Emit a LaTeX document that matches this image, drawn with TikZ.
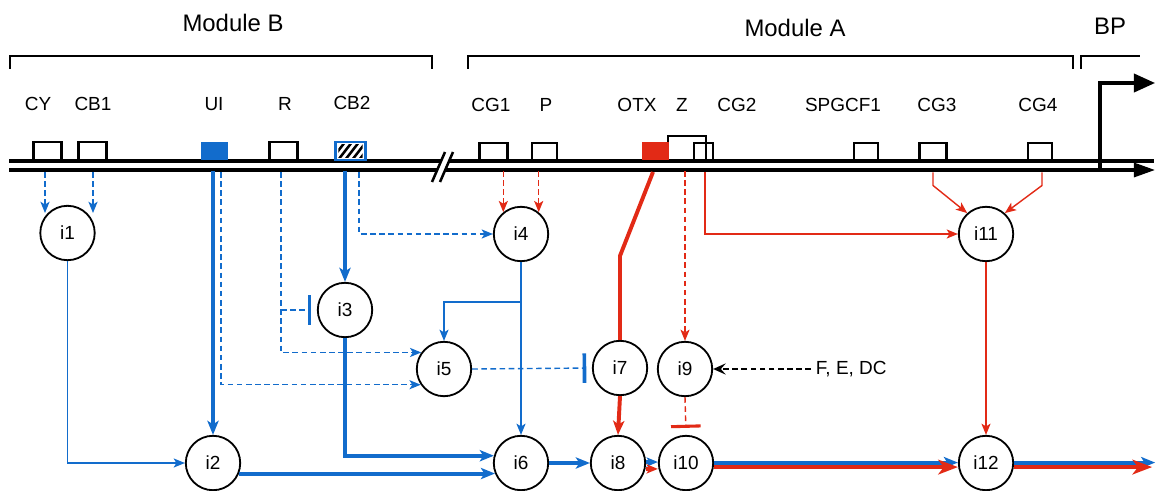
\documentclass[tikz,border=0pt]{standalone}
\usepackage{fontspec}
\setmainfont{Liberation Sans}
\usetikzlibrary{positioning}
\usetikzlibrary{arrows.meta}
\usetikzlibrary{calc}
\usepackage{xcolor}

\definecolor{cblue}{RGB}{18,108,204}
\definecolor{cred}{RGB}{226,42,22}

\tikzset{
  inode/.style={circle, draw=black, line width=1.3pt, fill=white, minimum size=1.36cm, inner sep=0pt, font=\fontsize{13.5}{15}\selectfont},
  gbox/.style={draw=black, line width=1.7pt, minimum width=0.7cm, minimum height=0.44cm, inner sep=0pt},
  glabel/.style={font=\fontsize{13.5}{15}\selectfont},
  mlabel/.style={font=\fontsize{17}{19}\selectfont},
  thinb/.style={cblue, line width=1pt},
  dashb/.style={cblue, line width=1pt, dash pattern=on 4pt off 2.5pt},
  thickb/.style={cblue, line width=2.8pt},
  thinr/.style={cred, line width=1pt},
  dashr/.style={cred, line width=1pt, dash pattern=on 4pt off 2.5pt},
  thickr/.style={cred, line width=2.8pt},
  tip/.style={-{Stealth[length=8pt,width=6.5pt,inset=2pt]}},
  bigtip/.style={-{Stealth[length=10pt,width=8pt,inset=2.5pt]}},
  redtip/.style={-{Stealth[length=14pt,width=10.5pt,inset=4pt]}},
  stopb/.style={-{Bar[width=21pt,line width=2.6pt]}, shorten >=4pt},
}

\begin{document}
\begin{tikzpicture}[x=0.025cm, y=-0.025cm]
\useasboundingbox (0,0) rectangle (1156,491);

% modules
\node[mlabel] (modB) at (233,23) {Module B};
\node[mlabel] (modA) at (795,28) {Module A};
\node[mlabel] (modBP) at (1110,26) {BP};
\draw[line width=1.1pt] (10,69) -- (10,56) -- (432,56) -- (432,69);
\draw[line width=1.1pt] (468,69) -- (468,56) -- (1073,56) -- (1073,69);
\draw[line width=1.1pt] (1081,69) -- (1081,56) -- (1140,56);

% strand
\draw[line width=2.2pt] (9,161) -- (1154,161);
\draw[line width=2.2pt, -{Triangle[length=15pt,width=10pt]}] (9,170) -- (1155,170);
\coordinate (strand) at (0,171);
\fill[white] (434.6,176) -- (443.3,156) -- (451.3,156) -- (442.6,176) -- cycle;
\draw[line width=1.8pt] (432,182) -- (445,152);
\draw[line width=1.8pt] (440,182) -- (453,152);

% promoter
\draw[line width=2.2pt, -{Triangle[length=15pt,width=13pt]}] (1100,170) -- (1100,83) -- (1155,83);

% site names
\node[glabel] (lcy) at (38,104) {CY};
\node[glabel] (lcb1) at (93,104) {CB1};
\node[glabel] (lui) at (214,104) {UI};
\node[glabel] (lr) at (285,104) {R};
\node[glabel] (lcb2) at (352,103) {CB2};
\node[glabel] (lcg1) at (491,105) {CG1};
\node[glabel] (lp) at (546,105) {P};
\node[glabel] (lotx) at (637,105) {OTX};
\node[glabel] (lz) at (682,105) {Z};
\node[glabel] (lcg2) at (737,105) {CG2};
\node[glabel] (lspg) at (843,105) {SPGCF1};
\node[glabel] (lcg3) at (937,105) {CG3};
\node[glabel] (lcg4) at (1038,105) {CG4};

% boxes
\node[gbox] (cy) at (47.5,151) {};
\node[gbox] (cb1) at (92.5,151) {};
\node[gbox, draw=none, fill=cblue, minimum width=0.675cm] (ui) at (214.5,151) {};
\node[gbox] (r) at (283.5,151) {};
\node[gbox, draw=cblue, fill=white, minimum width=0.75cm] (cb2) at (350.5,151) {};
\begin{scope}
\clip ($(cb2.south west)+(4,-3)$) rectangle ($(cb2.north east)+(-4,3)$);
\foreach \s in {0,7,14,21,28}
  \draw[line width=1.8pt] ($(cb2.south west)+(\s-4,0)$) -- ++(14,-18);
\end{scope}

\node[gbox] (cg1) at (493.5,151.5) {};
\node[gbox, minimum width=0.625cm] (p) at (544.5,151.5) {};
\node[gbox, minimum width=0.95cm, minimum height=0.6cm] (z) at (687,148) {};
\node[gbox, draw=none, fill=cred, minimum width=0.675cm] (otx) at (655.5,151) {};
\node[gbox, minimum width=0.475cm, minimum height=0.425cm] (cg2) at (703.5,151.5) {};
\node[gbox, minimum width=0.6cm] (spg) at (866,151.5) {};
\node[gbox, minimum width=0.675cm] (cg3) at (933,151.5) {};
\node[gbox, minimum width=0.6cm] (cg4) at (1040,151.5) {};

% nodes
\node[inode] (i1) at (67.5,233) {i1};
\node[inode] (i2) at (213,463) {i2};
\node[inode] (i3) at (345,310) {i3};
\node[inode] (i4) at (521,234) {i4};
\node[inode] (i5) at (444,369) {i5};
\node[inode] (i6) at (521,463) {i6};
\node[inode] (i7) at (620,368) {i7};
\node[inode] (i8) at (618,463) {i8};
\node[inode] (i9) at (685,369) {i9};
\node[inode] (i10) at (686,463) {i10};
\node[inode] (i11) at (986,234) {i11};
\node[inode] (i12) at (986,463) {i12};
\node[glabel, anchor=west] (fed) at (811,369) {F, E, DC};

% module B links
\draw[dashb,tip] ($(cy.south)+(-2.5,11)$) -- ++(0,41);
\draw[dashb,tip] ($(cb1.south)+(0.5,11)$) -- ++(0,41);
\draw[thinb,tip] (i1.south) |- (i2.west);
\draw[thickb,bigtip] (i2.north |- strand) -- (i2.north);
\draw[dashb,tip] ($(ui.south)+(6.5,11)$) |- (i5.214);
\draw[dashb,tip] ($(r.south)+(-2.5,11)$) |- (i5.144);
\draw[dashb,stopb] ($(r.south |- i3.west)+(-2.5,0)$) -- (i3.west);
\draw[thickb,bigtip] (i3.north |- strand) -- (i3.north);
\draw[thickb,bigtip] (i3.south) |- (i6.165);
\draw[dashb,tip] ($(cb2.south)+(8.5,11)$) |- (i4.west);
\draw[thickb,bigtip] (i2.-22) -- (i6.202);
\draw[thinb,tip] (i4.south) -- (i6.north);
\draw[thinb,tip] ($(i4.south)+(0,40)$) -| (i5.north);
\draw[dashb,stopb] (i5.east) -- (i7.west);
\draw[thickb,bigtip] (i6.east) -- (i8.west);

% module A links
\draw[dashr,tip] (i4.129 |- strand) -- (i4.129);
\draw[dashr,tip] (i4.51 |- strand) -- (i4.51);
\draw[thickr] ($(otx.south)+(-2.5,11)$) -- ($(i7.north)+(0,-84)$) -- (i7.north);
\draw[thickr,bigtip] (i7.south) -- (i8.north);
\draw[dashr,tip] (i9.north |- strand) -- (i9.north);
\draw[thinr,tip] ($(cg2.south)+(1.5,11)$) |- (i11.west);
\draw[thinr,tip] ($(cg3.south)+(0,11)$) -- ++(0,13) -- (i11.132);
\draw[thinr,tip] ($(cg4.south)+(2,11)$) -- ++(0,13) -- (i11.48);
\draw[thinr,tip] (i11.south) -- (i12.north);
\draw[dashr,-{Bar[width=21pt,line width=2.2pt]}, shorten >=5pt] (i9.south) -- (i10.north);
\draw[black, line width=1pt, dash pattern=on 4pt off 2.5pt, -{Stealth[length=9pt,width=8pt,inset=3.5pt]}] (fed.west) -- (i9.east);

% output
\draw[cblue, line width=2.6pt, tip] ([yshift=0.7pt]i8.east) -- ([yshift=0.7pt]i10.west);
\draw[cred, line width=2.6pt, tip] ([yshift=-4.2pt]i8.east) -- ([yshift=-4.2pt]i10.west);
\draw[thickb,bigtip] ([yshift=0.3pt]i10.east) -- ([yshift=0.3pt]i12.west);
\draw[thickr,redtip] ([yshift=-2.9pt]i10.east) -- ([yshift=-2.9pt]i12.west);
\draw[thickb,bigtip] ([yshift=0.3pt]i12.east) -- ++(141,0);
\draw[thickr,redtip] ([yshift=-2.9pt]i12.east) -- ++(138,0);

\end{tikzpicture}
\end{document}
